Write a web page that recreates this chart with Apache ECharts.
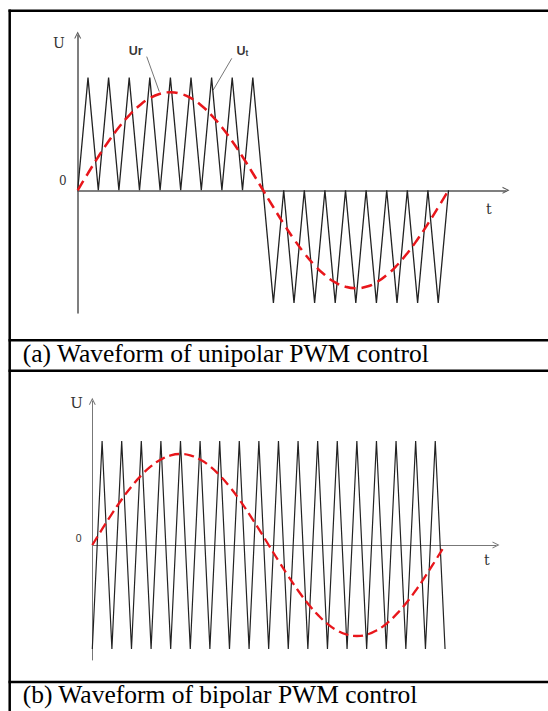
<!DOCTYPE html>
<html>
<head>
<meta charset="utf-8">
<script src="https://cdn.jsdelivr.net/npm/echarts@6/dist/echarts.min.js"></script>
<style>
html,body{margin:0;padding:0;background:#fff;}
#chart{position:absolute;left:0;top:0;width:548px;height:711px;}
</style>
</head>
<body>
<div id="chart"></div>
<script>
// time steps (carrier half-periods), shared by both panels
const tSteps = [0,0.5,1,1.5,2,2.5,3,3.5,4,4.5,5,5.5,6,6.5,7,7.5,8,8.5,9,9.5,10,10.5,11,11.5,12,12.5,13,13.5,14,14.5,15,15.5,16,16.5,17,17.5,18];
// (a) unipolar: triangular carrier Ut and sine reference Ur
const carrierA = [0,1,0,1,0,1,0,1,0,1,0,1,0,1,0,1,0,1,0,-1,0,-1,0,-1,0,-1,0,-1,0,-1,0,-1,0,-1,0,-1,0];
const referenceA = [0,0.151,0.298,0.435,0.559,0.666,0.753,0.818,0.857,0.87,0.857,0.818,0.753,0.666,0.559,0.435,0.298,0.151,0,-0.151,-0.298,-0.435,-0.559,-0.666,-0.753,-0.818,-0.857,-0.87,-0.857,-0.818,-0.753,-0.666,-0.559,-0.435,-0.298,-0.151,0];
// (b) bipolar
const carrierB = [-1,1,-1,1,-1,1,-1,1,-1,1,-1,1,-1,1,-1,1,-1,1,-1,1,-1,1,-1,1,-1,1,-1,1,-1,1,-1,1,-1,1,-1,1,-1];
const referenceB = [0,0.152,0.299,0.438,0.562,0.670,0.758,0.822,0.862,0.875,0.862,0.822,0.758,0.670,0.562,0.438,0.299,0.152,0,-0.152,-0.299,-0.438,-0.562,-0.670,-0.758,-0.822,-0.862,-0.875,-0.862,-0.822,-0.758,-0.670,-0.562,-0.438,-0.299,-0.152,0];
// annotations in panel (a)
const labelUr = [2.81, 1.237];
const leaderUr = [[3.35, 1.187], [3.96, 0.876]];
const labelUt = [8.0, 1.237];
const leaderUt = [[7.48, 1.172], [6.58, 0.891]];
// texts
const captionA = '(a) Waveform of unipolar PWM control';
const captionB = '(b) Waveform of bipolar PWM control';
const yName = 'U', xName = 't', zeroLabel = '0';

const SERIF = '"Liberation Serif", "Times New Roman", serif';
const DSERIF = '"DejaVu Serif", serif';
const SANS = '"Liberation Sans", Arial, sans-serif';

const zip = (xs, ys) => xs.map((x, i) => [x, ys[i]]);
const chevron = 'path://M0,100 L50,0 L100,100 L84,100 L50,30 L16,100 Z';

const chart = echarts.init(document.getElementById('chart'), null, {renderer: 'svg'});

function xAx(gridIndex, max, color, width, nameGap, padTop, arrow) {
  return {
    type: 'value', gridIndex, min: 0, max,
    name: xName, nameLocation: 'end', nameGap,
    nameTextStyle: {fontFamily: DSERIF, fontSize: 14, color: '#333', align: 'left', verticalAlign: 'top', padding: [padTop, 0, 0, 0]},
    axisLine: {show: true, onZero: true, symbol: ['none', chevron], symbolSize: arrow, lineStyle: {color, width}},
    axisTick: {show: false}, axisLabel: {show: false}, splitLine: {show: false}
  };
}
function yAx(gridIndex, min, max, color, width, nameGap, padRight, nameSize, labelFont, labelSize, labelMargin, labelPadBottom, arrow) {
  return {
    type: 'value', gridIndex, min, max,
    name: yName, nameLocation: 'end', nameGap,
    nameTextStyle: {fontFamily: DSERIF, fontSize: nameSize, color: '#333', align: 'right', verticalAlign: 'middle', padding: [0, padRight, 0, 0]},
    axisLine: {show: true, onZero: true, symbol: ['none', chevron], symbolSize: arrow, lineStyle: {color, width}},
    axisTick: {show: false},
    axisLabel: {show: true, customValues: [0], formatter: () => zeroLabel, fontFamily: labelFont, fontSize: labelSize, color: '#333',
      margin: labelMargin, verticalAlign: 'bottom', lineHeight: labelSize, padding: [0, 0, labelPadBottom, 0]},
    splitLine: {show: false}
  };
}

const option = {
  animation: false,
  backgroundColor: '#fff',
  grid: [
    {left: 77.7, top: 35, width: 428.3, height: 278, outerBoundsMode: 'none', containLabel: false},
    {left: 92.3, top: 401.3, width: 403.7, height: 258.7, outerBoundsMode: 'none', containLabel: false}
  ],
  xAxis: [
    xAx(0, 20.79, '#555', 1.5, -20, 12, [7, 8]),
    xAx(1, 20.6, '#777', 1, -12, 8, [7, 8])
  ],
  yAxis: [
    yAx(0, -1.09, 1.379, '#555', 1.5, -7.5, 13, 14, DSERIF, 12, 11, 3, [8, 7]),
    yAx(1, -1.106, 1.382, '#777', 1, -1.2, 9.5, 15, SANS, 10.5, 10.6, 2, [7, 7])
  ],
  series: [
    {type: 'line', xAxisIndex: 0, yAxisIndex: 0, data: zip(tSteps, carrierA), symbol: 'none',
      lineStyle: {color: '#222', width: 1.3}, z: 3},
    {type: 'line', xAxisIndex: 0, yAxisIndex: 0, data: zip(tSteps, referenceA), symbol: 'none', smooth: true,
      lineStyle: {color: '#e8161b', width: 2.5, type: [11, 6]}, z: 4},
    {type: 'line', xAxisIndex: 0, yAxisIndex: 0, data: leaderUr, symbol: 'none', lineStyle: {color: '#777', width: 1}, z: 2},
    {type: 'line', xAxisIndex: 0, yAxisIndex: 0, data: leaderUt, symbol: 'none', lineStyle: {color: '#777', width: 1}, z: 2},
    {type: 'scatter', xAxisIndex: 0, yAxisIndex: 0, data: [labelUr], symbolSize: 1, itemStyle: {color: 'rgba(0,0,0,0)'},
      label: {show: true, position: 'inside', formatter: '{b|Ur}',
        rich: {b: {fontFamily: SANS, fontWeight: 'bold', fontSize: 12.5, color: '#000'}}}},
    {type: 'scatter', xAxisIndex: 0, yAxisIndex: 0, data: [labelUt], symbolSize: 1, itemStyle: {color: 'rgba(0,0,0,0)'},
      label: {show: true, position: 'inside', formatter: '{b|U}{s|t}',
        rich: {b: {fontFamily: SANS, fontWeight: 'bold', fontSize: 12.5, color: '#000', verticalAlign: 'bottom', lineHeight: 14},
               s: {fontFamily: SANS, fontWeight: 'bold', fontSize: 8.5, color: '#000', verticalAlign: 'bottom', lineHeight: 10}}}},
    {type: 'line', xAxisIndex: 1, yAxisIndex: 1, data: zip(tSteps, carrierB), symbol: 'none',
      lineStyle: {color: '#222', width: 1.2}, z: 3},
    {type: 'line', xAxisIndex: 1, yAxisIndex: 1, data: zip(tSteps, referenceB), symbol: 'none', smooth: true,
      lineStyle: {color: '#e8161b', width: 2.3, type: [10, 5]}, z: 4}
  ],
  graphic: [
    {type: 'line', shape: {x1: 8.5, y1: 10.7, x2: 548, y2: 10.7}, style: {stroke: '#000', lineWidth: 2.5}},
    {type: 'line', shape: {x1: 9.7, y1: 9.5, x2: 9.7, y2: 711}, style: {stroke: '#000', lineWidth: 2.5}},
    {type: 'line', shape: {x1: 8.5, y1: 340.3, x2: 548, y2: 340.3}, style: {stroke: '#000', lineWidth: 2.5}},
    {type: 'line', shape: {x1: 8.5, y1: 370.7, x2: 548, y2: 370.7}, style: {stroke: '#000', lineWidth: 2.5}},
    {type: 'line', shape: {x1: 8.5, y1: 682, x2: 548, y2: 682}, style: {stroke: '#000', lineWidth: 2.5}},
    {type: 'text', x: 22.7, y: 353, style: {text: captionA, font: '25.5px "Liberation Serif", serif', fill: '#000', verticalAlign: 'middle', align: 'left'}},
    {type: 'text', x: 22.7, y: 694, style: {text: captionB, font: '25.5px "Liberation Serif", serif', fill: '#000', verticalAlign: 'middle', align: 'left'}}
  ]
};
chart.setOption(option);
</script>
</body>
</html>
